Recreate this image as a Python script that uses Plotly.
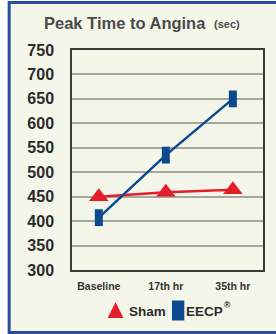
import plotly.graph_objects as go

categories = ["Baseline", "17th hr", "35th hr"]
sham_values = [450, 459, 464]
eecp_values = [407, 535, 650]
y_ticks = [300, 350, 400, 450, 500, 550, 600, 650, 700, 750]

W, H = 276, 334
L, R, T, B = 72, 11, 50, 64
PW, PH = W - L - R, H - T - B

def px(x):
    return (x - L) / PW

def py(y):
    return (H - B - y) / PH

RED = "#e41f2b"
BLUE = "#0b4a8e"
CREAM = "#f5f6ea"
TXT = "#2b2b2b"
FONT = "Liberation Sans, Arial, sans-serif"

fig = go.Figure()
fig.add_trace(go.Scatter(
    x=categories, y=sham_values, mode="lines+markers", name="Sham",
    line=dict(color=RED, width=2.5),
    marker=dict(symbol="triangle-up", size=17, color=RED),
    showlegend=False,
))
fig.add_trace(go.Scatter(
    x=categories, y=eecp_values, mode="lines+markers", name="EECP®",
    line=dict(color=BLUE, width=2.5),
    marker=dict(symbol="line-ns", size=12, color=BLUE,
                line=dict(color=BLUE, width=8)),
    showlegend=False,
))

shapes = [
    # outer frame
    dict(type="rect", xref="paper", yref="paper", layer="below",
         x0=px(8.5), x1=px(300), y0=py(2.5), y1=py(332.5),
         line=dict(color="#2c4c9c", width=3), fillcolor=CREAM),
    # legend triangle
    dict(type="path", xref="paper", yref="paper",
         path=f"M {px(108)} {py(318)} L {px(124)} {py(318)} L {px(116)} {py(302)} Z",
         fillcolor=RED, line=dict(width=0)),
    # legend rectangle
    dict(type="rect", xref="paper", yref="paper",
         x0=px(173), x1=px(185.5), y0=py(320.5), y1=py(300.5),
         fillcolor=BLUE, line=dict(width=0)),
]

bold = dict(family=FONT, color=TXT, weight="bold")
annotations = [
    dict(text="Sham", xref="paper", yref="paper", x=px(128), y=py(311),
         xanchor="left", yanchor="middle", showarrow=False,
         font=dict(bold, size=13.5)),
    dict(text="EECP", xref="paper", yref="paper", x=px(185), y=py(311),
         xanchor="left", yanchor="middle", showarrow=False,
         font=dict(bold, size=13.5)),
    dict(text="®", xref="paper", yref="paper", x=px(224), y=py(305),
         xanchor="left", yanchor="middle", showarrow=False,
         font=dict(bold, size=8.5)),
    dict(text="Peak Time to Angina", xref="paper", yref="paper",
         x=px(42), y=py(22.5), xanchor="left", yanchor="middle", showarrow=False,
         font=dict(family=FONT, size=16.5, color="#4b4b4b", weight="bold")),
    dict(text="(sec)", xref="paper", yref="paper",
         x=px(213), y=py(24), xanchor="left", yanchor="middle", showarrow=False,
         font=dict(family=FONT, size=11, color="#4b4b4b", weight="bold")),
]

fig.update_layout(
    width=W, height=H,
    margin=dict(l=L, r=R, t=T, b=B, pad=0),
    paper_bgcolor="white", plot_bgcolor=CREAM,
    shapes=shapes, annotations=annotations,
    showlegend=False,
    xaxis=dict(
        type="category", range=[-0.4, 2.45],
        showgrid=False, showline=True, mirror=True,
        linecolor="#3a3a3a", linewidth=1.5,
        ticks="", ticklabelstandoff=6,
        tickfont=dict(family=FONT, size=10.5, color="#333333", weight="bold"),
        fixedrange=True,
    ),
    yaxis=dict(
        range=[300, 750], tickvals=y_ticks,
        showgrid=True, gridcolor="#a8a79f", gridwidth=1.5,
        showline=True, mirror=True, linecolor="#3a3a3a", linewidth=1.5,
        ticks="", ticklabelstandoff=13,
        tickfont=dict(family=FONT, size=16, color=TXT, weight="bold"),
        zeroline=False, fixedrange=True,
    ),
)

fig.write_html(
    "out.html",
    config={"displayModeBar": False},
    post_script="document.body.style.margin='0';document.body.style.overflow='hidden';",
)
